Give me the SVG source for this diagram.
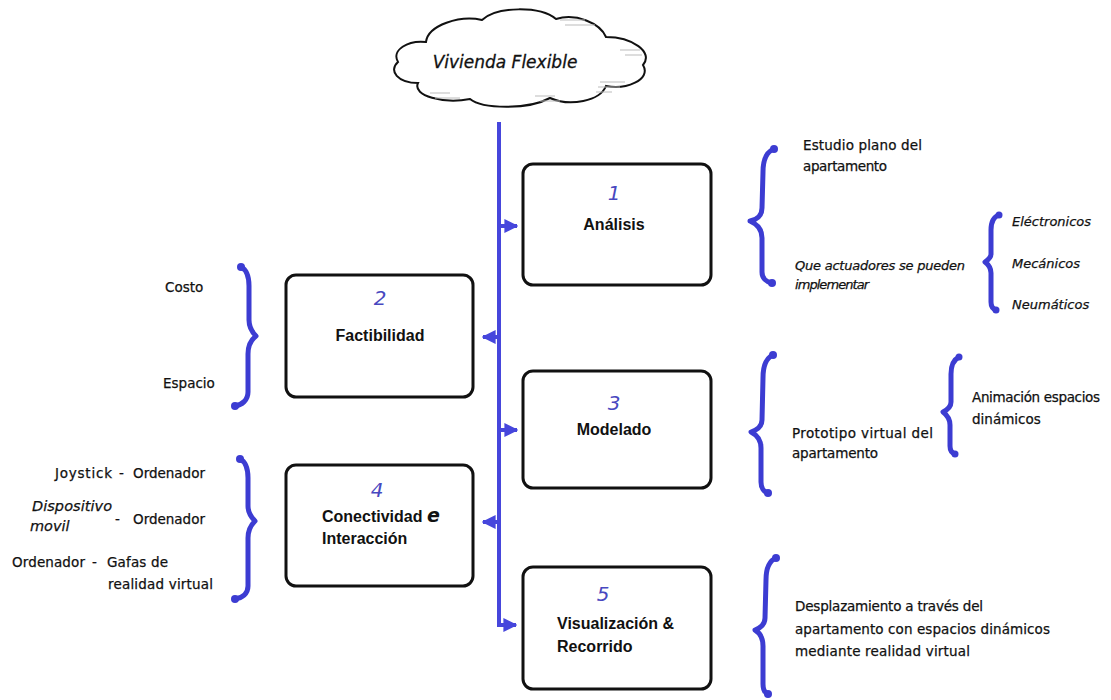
<svg xmlns="http://www.w3.org/2000/svg" width="1111" height="700" viewBox="0 0 1111 700">
<defs>
<style>
.box{fill:#fff;stroke:#111;stroke-width:3}
.num{font-family:"DejaVu Sans",sans-serif;font-style:italic;font-size:20px;fill:#4848c0;text-anchor:middle}
.lbl{font-family:"Liberation Sans",Arial,sans-serif;font-weight:bold;font-size:16px;fill:#111}
.t{font-family:"DejaVu Sans",sans-serif;font-size:13.5px;fill:#111;stroke:#111;stroke-width:0.25}
.ti{font-family:"DejaVu Sans",sans-serif;font-style:italic;font-size:13px;fill:#111;stroke:#111;stroke-width:0.25}
.tb{font-size:14.5px}
.br{fill:none;stroke:#3c3cd2;stroke-width:5;stroke-linecap:round;stroke-linejoin:round}
.dot{fill:#3c3cd2}
.line{fill:none;stroke:#4646dc;stroke-width:4}
.hatch{stroke:#bbb;stroke-width:1}
</style>
<marker id="ah" viewBox="0 0 10 10" refX="9" refY="5" markerUnits="userSpaceOnUse" markerWidth="14" markerHeight="14" orient="auto">
<path d="M0,0 L10,5 L0,10 Z" fill="#4646dc"/>
</marker>
</defs>
<g id="cloud">
<path d="M398,62 C391,50 408,40 426,42 C428,25 460,15 482,20 C497,6 540,6 556,19 C576,13 600,23 606,37 C632,37 654,52 643,65 C652,80 625,90 606,86 C600,101 570,107 550,98 C528,110 482,109 470,99 C444,104 412,96 418,83 C398,83 388,71 398,62 Z" fill="#fff" stroke="#111" stroke-width="2"/>
<g class="hatch">
<line x1="600" y1="82" x2="625" y2="82"/><line x1="598" y1="87" x2="620" y2="87"/><line x1="596" y1="92" x2="612" y2="92"/>
<line x1="540" y1="101" x2="560" y2="101"/><line x1="535" y1="96" x2="555" y2="96"/>
<line x1="620" y1="50" x2="640" y2="50"/><line x1="625" y1="55" x2="642" y2="55"/>
<line x1="560" y1="20" x2="585" y2="20"/><line x1="565" y1="25" x2="595" y2="25"/>
<line x1="430" y1="93" x2="450" y2="93"/><line x1="435" y1="98" x2="460" y2="98"/>
</g>
<text x="505" y="68" font-family="DejaVu Sans, sans-serif" font-style="italic" font-size="17" fill="#111" stroke="#111" stroke-width="0.3" text-anchor="middle">Vivienda Flexible</text>
</g>
<g id="connectors">
<path class="line" d="M499,122 L499,625 L516,625" marker-end="url(#ah)"/>
<path class="line" d="M499,226 L517,226" marker-end="url(#ah)"/>
<path class="line" d="M499,337 L483,337" marker-end="url(#ah)"/>
<path class="line" d="M499,430 L517,430" marker-end="url(#ah)"/>
<path class="line" d="M499,522 L483,522" marker-end="url(#ah)"/>
</g>
<g id="n1">
<rect class="box" x="523" y="164" width="188" height="121" rx="10"/>
<text class="num" x="614" y="200">1</text>
<text class="lbl" x="614" y="230" text-anchor="middle">Análisis</text>
</g>
<g id="n2">
<rect class="box" x="286" y="275" width="187" height="122" rx="10"/>
<text class="num" x="380" y="305">2</text>
<text class="lbl" x="380" y="341" text-anchor="middle">Factibilidad</text>
</g>
<g id="n3">
<rect class="box" x="523" y="371" width="188" height="117" rx="10"/>
<text class="num" x="614" y="410">3</text>
<text class="lbl" x="614" y="435" text-anchor="middle">Modelado</text>
</g>
<g id="n4">
<rect class="box" x="286" y="465" width="187" height="121" rx="10"/>
<text class="num" x="377" y="497">4</text>
<text class="lbl" x="322" y="522">Conectividad <tspan font-family="DejaVu Sans, sans-serif" font-style="italic" font-size="19">e</tspan></text>
<text class="lbl" x="322" y="544">Interacción</text>
</g>
<g id="n5">
<rect class="box" x="523" y="567" width="188" height="122" rx="10"/>
<text class="num" x="603" y="601">5</text>
<text class="lbl" x="557" y="629">Visualización &amp;</text>
<text class="lbl" x="557" y="652">Recorrido</text>
</g>
<g id="b1">
<path class="br" d="M774,149 C766,152 763,160 763,172 L762,208 C762,216 756,220 750,221 C757,224 762,230 762,238 L762,272 C762,278 766,282 772,283"/>
<circle class="dot" cx="774" cy="149" r="4"/><circle class="dot" cx="772" cy="283" r="4"/>
<text class="t" x="803" y="150" textLength="119">Estudio plano del</text>
<text class="t" x="803" y="171" textLength="84">apartamento</text>
<text class="ti" x="795" y="270" textLength="170">Que actuadores se pueden</text>
<text class="ti" x="795" y="289" textLength="74">implementar</text>
<path class="br" d="M999,215 C993,217 991,222 991,230 L991,254 C991,258 988,260 985,262 C989,265 991,268 991,273 L991,302 C991,306 993,309 996,310"/>
<circle class="dot" cx="999" cy="215" r="3.5"/><circle class="dot" cx="996" cy="310" r="3.5"/>
<text class="ti" x="1012" y="226">Eléctronicos</text>
<text class="ti" x="1012" y="268">Mecánicos</text>
<text class="ti" x="1012" y="309">Neumáticos</text>
</g>
<g id="b2">
<path class="br" d="M241,267 C247,270 249,276 249,286 L249,320 C249,328 252,332 256,336 C251,340 248,346 248,354 L248,392 C248,400 242,405 235,406"/>
<circle class="dot" cx="241" cy="267" r="4"/><circle class="dot" cx="235" cy="406" r="4"/>
<text class="t" x="165" y="292">Costo</text>
<text class="t" x="163" y="388">Espacio</text>
</g>
<g id="b3">
<path class="br" d="M773,355 C766,358 763,366 763,378 L762,420 C762,426 757,430 751,432 C757,435 761,440 761,448 L761,482 C761,488 764,492 768,493"/>
<circle class="dot" cx="773" cy="355" r="4"/><circle class="dot" cx="768" cy="493" r="4"/>
<text class="t" x="792" y="438" textLength="141">Prototipo virtual del</text>
<text class="t" x="792" y="458" textLength="86">apartamento</text>
<path class="br" d="M959,357 C953,360 951,365 951,374 L951,402 C951,407 947,410 943,412 C947,415 950,419 950,425 L950,446 C950,450 952,453 955,454"/>
<circle class="dot" cx="959" cy="357" r="3.5"/><circle class="dot" cx="955" cy="454" r="3.5"/>
<text class="t" x="972" y="402" textLength="128">Animación espacios</text>
<text class="t" x="972" y="424">dinámicos</text>
</g>
<g id="b4">
<path class="br" d="M240,459 C246,462 248,468 248,478 L248,506 C248,513 251,517 255,521 C251,525 248,530 248,538 L248,586 C248,594 242,598 235,599"/>
<circle class="dot" cx="240" cy="459" r="4"/><circle class="dot" cx="235" cy="599" r="4"/>
<text class="t" x="55" y="478" textLength="57">Joystick</text>
<text class="t" x="119" y="478">-</text>
<text class="t" x="133" y="478" textLength="72">Ordenador</text>
<text class="ti tb" x="32" y="511" textLength="80">Dispositivo</text>
<text class="ti tb" x="30" y="531">movil</text>
<text class="t" x="115" y="524">-</text>
<text class="t" x="133" y="524" textLength="72">Ordenador</text>
<text class="t" x="12" y="567" textLength="73">Ordenador</text>
<text class="t" x="92" y="567">-</text>
<text class="t" x="107" y="567" textLength="61">Gafas de</text>
<text class="t" x="108" y="589" textLength="105">realidad virtual</text>
</g>
<g id="b5">
<path class="br" d="M776,558 C769,561 766,568 766,580 L765,618 C765,624 760,628 755,630 C760,633 763,638 763,646 L763,684 C763,690 765,693 768,694"/>
<circle class="dot" cx="776" cy="558" r="4"/><circle class="dot" cx="768" cy="694" r="4"/>
<text class="t" x="795" y="611" textLength="188">Desplazamiento a través del</text>
<text class="t" x="795" y="634" textLength="255">apartamento con espacios dinámicos</text>
<text class="t" x="795" y="656" textLength="175">mediante realidad virtual</text>
</g>
</svg>
